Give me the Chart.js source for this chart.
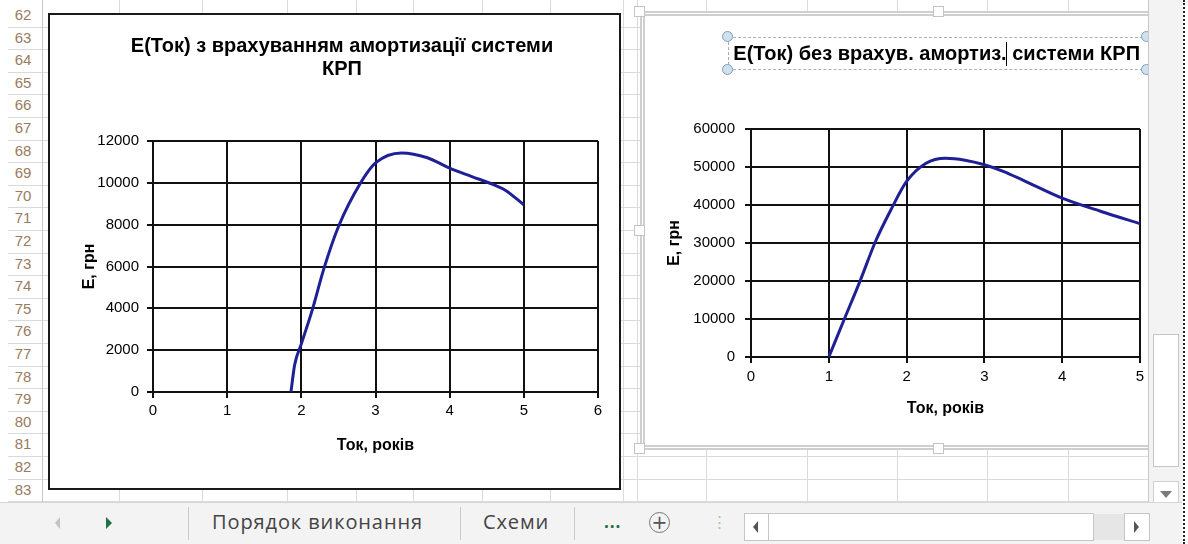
<!DOCTYPE html>
<html lang="uk">
<head>
<meta charset="utf-8">
<title>E(Ток)</title>
<script src="https://cdn.jsdelivr.net/npm/chart.js@4.4.1/dist/chart.umd.min.js"></script>
<style>
  html, body { margin: 0; padding: 0; }
  body { width: 1188px; height: 544px; position: relative; overflow: hidden; background: #fff; font-family: "Liberation Sans", Arial, sans-serif; }
  #view { position: absolute; left: 0; top: 0; width: 1148px; height: 502px; overflow: hidden; background: #fff; }
  .row-line { position: absolute; left: 8px; right: 0; height: 0; border-top: 1px solid #dadada; }
  .col-line { position: absolute; top: 0; bottom: 0; width: 0; border-left: 1px solid #dadada; }
  .row-num { position: absolute; left: 6px; width: 34px; text-align: center; font-size: 15px; color: #9a7b5e; }
  #hdr-border { position: absolute; left: 42px; top: 0; bottom: 0; border-left: 1px solid #c8c8c8; }
  #box-left { position: absolute; left: 48px; top: 13px; width: 569px; height: 473px; border: 2px solid #1a1a1a; background: #fff; overflow: hidden; }
  #frame-right { position: absolute; left: 640px; top: 11px; width: 560px; height: 439px; box-sizing: border-box; border: 5px double #cfcfcf; background: #fff; }
  #clip-right { position: absolute; left: 645px; top: 16px; width: 503px; height: 428px; overflow: hidden; background: #fff; }
  canvas { display: block; }
  .handle { position: absolute; width: 9px; height: 9px; background: #fff; border: 1px solid #c4c4c4; }
  #title-box { position: absolute; left: 728px; top: 37px; width: 440px; height: 33px; border: 1px dashed #a9b0b8; box-sizing: border-box; }
  .dot { position: absolute; width: 9px; height: 9px; border-radius: 50%; background: #cfe0ee; border: 1.5px solid #7d9fbd; }
  #caret { position: absolute; left: 1006px; top: 42px; width: 1px; height: 24px; background: #000; }
  #vscroll { position: absolute; left: 1148px; top: 0; width: 34px; height: 502px; background: #f3f3f3; border-left: 1px solid #c8c8c8; }
  #vthumb { position: absolute; left: 1153px; top: 334px; width: 26px; height: 133px; background: #fff; border: 1px solid #c6c6c6; box-sizing: border-box; }
  #vdown { position: absolute; left: 1153px; top: 481px; width: 26px; height: 26px; background: #fff; border: 1px solid #d0d0d0; box-sizing: border-box; }
  #dotted { position: absolute; left: 1183px; top: 0; width: 0; height: 544px; border-left: 2px dotted #222; }
  #tabbar { position: absolute; left: 0; top: 502px; width: 1182px; height: 42px; background: #f3f3f3; border-top: 1px solid #d6d6d6; box-sizing: border-box; }
  .sep { position: absolute; top: 507px; width: 0; height: 33px; border-left: 1px solid #c9c9c9; }
  .tab { position: absolute; top: 508px; font-family: "Open Sans", "Noto Sans", sans-serif; font-size: 20px; letter-spacing: 0.9px; color: #444; }
  .tri { position: absolute; width: 0; height: 0; border-style: solid; }
  #plus { position: absolute; left: 649px; top: 512px; width: 19px; height: 19px; border: 1.5px solid #777; border-radius: 50%; text-align: center; line-height: 19px; font-size: 19px; color: #555; font-family: "DejaVu Sans", sans-serif; }
  .hbtn { position: absolute; top: 513px; height: 28px; background: #fff; border: 1px solid #c6c6c6; box-sizing: border-box; }
</style>
</head>
<body>
<div id="view">
  <div id="hdr-border"></div>
  <div id="box-left"><canvas id="chart-left" width="584" height="473"></canvas></div>
  <div id="frame-right"></div>
  <div id="clip-right"><canvas id="chart-right" width="585" height="428"></canvas></div>
  <div class="handle" style="left:634px;top:6px"></div>
  <div class="handle" style="left:933px;top:6px"></div>
  <div class="handle" style="left:634px;top:225px"></div>
  <div class="handle" style="left:634px;top:443px"></div>
  <div class="handle" style="left:933px;top:443px"></div>
  <div id="title-box"></div>
  <div class="dot" style="left:722px;top:31px"></div>
  <div class="dot" style="left:722px;top:64px"></div>
  <div class="dot" style="left:1141px;top:31px"></div>
  <div class="dot" style="left:1141px;top:64px"></div>
  <div id="caret"></div>
</div>
<div id="vscroll"></div>
<div id="vthumb"></div>
<div id="vdown"><div class="tri" style="left:6px;top:9px;border-width:7px 6px 0 6px;border-color:#7a7a7a transparent transparent transparent"></div></div>
<div id="dotted"></div>
<div id="tabbar"></div>
<div class="tri" style="left:55px;top:517px;border-width:6px 5px 6px 0;border-color:transparent #c3c3c3 transparent transparent"></div>
<div class="tri" style="left:106px;top:517px;border-width:6px 0 6px 6px;border-color:transparent transparent transparent #1e7145"></div>
<div class="sep" style="left:188px"></div>
<div class="tab" style="left:212px">Порядок виконання</div>
<div class="sep" style="left:460px"></div>
<div class="tab" style="left:483px">Схеми</div>
<div class="sep" style="left:574px"></div>
<div class="tab" style="left:604px;color:#1e7145;font-weight:bold;font-size:17px;top:510px">...</div>
<div id="plus">+</div>
<div class="tab" style="left:711px;color:#bbb;font-size:17px;top:510px">⋮</div>
<div class="hbtn" style="left:744px;width:25px"><div class="tri" style="left:8px;top:7px;border-width:6px 5px 6px 0;border-color:transparent #555 transparent transparent"></div></div>
<div class="hbtn" style="left:768px;width:326px"></div>
<div style="position:absolute;left:1094px;top:514px;width:30px;height:26px;background:#e6e6e6"></div>
<div class="hbtn" style="left:1124px;width:26px"><div class="tri" style="left:9px;top:7px;border-width:6px 0 6px 5px;border-color:transparent transparent transparent #555"></div></div>

<script>
  // ---- data ----
  const leftTitle = ['E(Ток) з врахуванням амортизації системи', 'КРП'];
  const leftTok = [1.86, 1.91, 2, 2.15, 2.3, 2.5, 2.8, 3, 3.35, 3.7, 4, 4.3, 4.6, 4.75, 5];
  const leftE = [0, 1300, 2300, 3950, 5850, 7900, 10000, 10950, 11430, 11200, 10700, 10300, 9900, 9650, 8950];
  const leftXTicks = [0, 1, 2, 3, 4, 5, 6];
  const leftYTicks = [0, 2000, 4000, 6000, 8000, 10000, 12000];

  const rightTitle = 'E(Ток) без врахув. амортиз. системи КРП';
  const rightTok = [1, 1.2, 1.4, 1.6, 1.8, 2, 2.25, 2.5, 2.75, 3, 3.25, 3.5, 4, 4.5, 5];
  const rightE = [0, 10000, 19900, 30400, 38800, 46200, 51000, 52300, 51800, 50600, 48800, 46500, 41800, 38300, 35100];
  const rightXTicks = [0, 1, 2, 3, 4, 5];
  const rightYTicks = [0, 10000, 20000, 30000, 40000, 50000, 60000];

  const xTitle = 'Ток, років';
  const yTitle = 'E, грн';

  // ---- spreadsheet chrome ----
  const firstRow = 62, rowCount = 22, rowTop = 4, rowH = 22.6;
  const colLines = [119, 202, 287, 356, 413, 482, 550, 623, 637, 706, 807, 897, 987, 1068];
  const view = document.querySelector('#view');
  for (let i = 0; i < rowCount; i++) {
    const top = rowTop + i * rowH;
    const line = document.createElement('div');
    line.className = 'row-line';
    line.style.top = (top + rowH) + 'px';
    view.insertBefore(line, view.firstChild);
    const num = document.createElement('div');
    num.className = 'row-num';
    num.style.top = (top + 2) + 'px';
    num.textContent = firstRow + i;
    view.insertBefore(num, view.firstChild);
  }
  for (const x of colLines) {
    const col = document.createElement('div');
    col.className = 'col-line';
    col.style.left = x + 'px';
    view.insertBefore(col, view.firstChild);
  }

  // ---- charts ----
  const FONT = '"Liberation Sans", Arial, sans-serif';
  const LINE_COLOR = '#1f1f96';

  function tickSetter(values) {
    return (scale) => { scale.ticks = values.map(v => ({ value: v })); };
  }

  // padLeft shifts the title box so the title centre matches Excel's;
  // the y scale width and title padding make up for it.
  function buildChart(canvas, o) {
    return new Chart(canvas, {
      type: 'scatter',
      data: {
        datasets: [{
          data: o.x.map((x, i) => ({ x, y: o.y[i] })),
          showLine: true,
          borderColor: LINE_COLOR,
          borderWidth: 3,
          pointRadius: 0,
          cubicInterpolationMode: 'monotone',
          fill: false
        }]
      },
      options: {
        responsive: false,
        animation: false,
        events: [],
        layout: { padding: { left: o.padLeft, right: o.padRight, top: 0, bottom: 0 } },
        plugins: {
          legend: { display: false },
          tooltip: { enabled: false },
          title: {
            display: true,
            text: o.title,
            align: o.titleAlign,
            color: '#000',
            font: { family: FONT, size: 20, weight: 'bold', lineHeight: '23px' },
            padding: { top: o.titleTop, bottom: o.titleBottom }
          }
        },
        scales: {
          x: {
            type: 'linear',
            min: o.xTicks[0],
            max: o.xTicks[o.xTicks.length - 1],
            afterBuildTicks: tickSetter(o.xTicks),
            afterFit: (s) => { s.height = o.xHeight; },
            grid: { color: '#111', lineWidth: 2, tickLength: 6, tickColor: '#111' },
            border: { color: '#111', width: 2 },
            ticks: { color: '#000', font: { family: FONT, size: 15 }, padding: o.xTickPad, maxRotation: 0, autoSkip: false, callback: v => String(v) },
            title: { display: true, text: xTitle, color: '#000', font: { family: FONT, size: 16, weight: 'bold' }, padding: { top: 0, bottom: o.xTitleBottom } }
          },
          y: {
            min: o.yTicks[0],
            max: o.yTicks[o.yTicks.length - 1],
            afterBuildTicks: tickSetter(o.yTicks),
            afterFit: (s) => { s.width = o.yWidth; },
            grid: { color: '#111', lineWidth: 2, tickLength: 6, tickColor: '#111' },
            border: { color: '#111', width: 2 },
            ticks: { color: '#000', font: { family: FONT, size: 15 }, padding: o.yTickPad, autoSkip: false, callback: v => String(v) },
            title: { display: true, text: yTitle, color: '#000', font: { family: FONT, size: 16, weight: 'bold' }, padding: { top: o.yTitleTop, bottom: 0 } }
          }
        }
      }
    });
  }

  buildChart(document.querySelector('#chart-left'), {
    title: leftTitle, titleAlign: 'center', x: leftTok, y: leftE, xTicks: leftXTicks, yTicks: leftYTicks,
    padLeft: 36, padRight: 36, titleTop: 20, titleBottom: 60,
    yWidth: 67, xHeight: 96, xTickPad: 4, yTickPad: 8, xTitleBottom: 33, yTitleTop: -5.6
  });

  buildChart(document.querySelector('#chart-right'), {
    title: rightTitle, titleAlign: 'end', x: rightTok, y: rightE, xTicks: rightXTicks, yTicks: rightYTicks,
    padLeft: 0, padRight: 90, titleTop: 27, titleBottom: 63,
    yWidth: 106, xHeight: 87, xTickPad: 5, yTickPad: 10, xTitleBottom: 26, yTitleTop: 20
  });
</script>
</body>
</html>
